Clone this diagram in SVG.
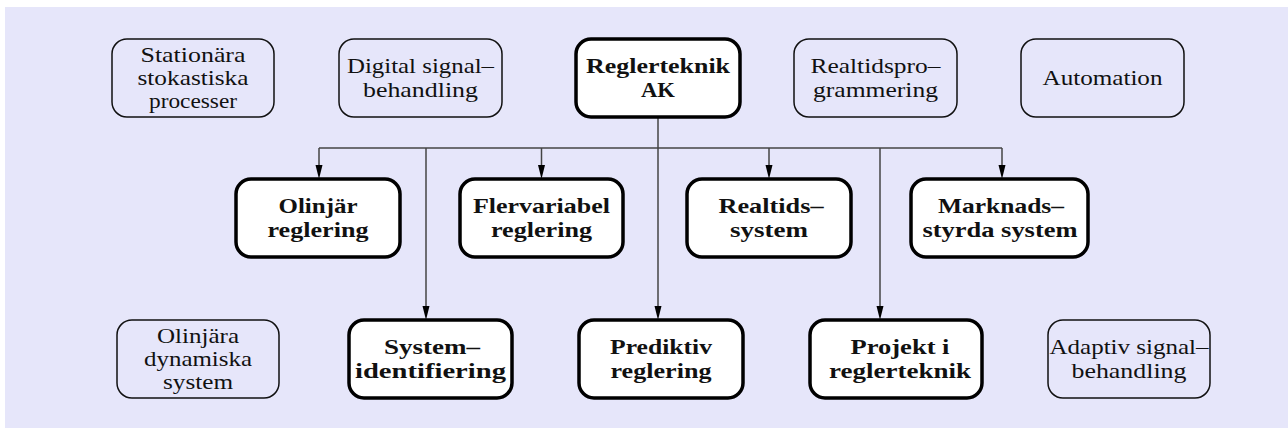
<svg xmlns="http://www.w3.org/2000/svg" width="1288" height="435" viewBox="0 0 1288 435">
<style>
.bg{fill:#e6e6fa}
.thin{fill:none;stroke:#111;stroke-width:1.5}
.thick{fill:#fff;stroke:#000;stroke-width:3.5}
.r{font-family:"Liberation Serif",serif;font-size:22px;fill:#111;text-anchor:middle}
.b{font-family:"Liberation Serif",serif;font-size:22px;font-weight:bold;fill:#111;text-anchor:middle}
.c{fill:none;stroke:#444;stroke-width:1.5}
</style>
<rect class="bg" x="5" y="7" width="1283" height="421"/>
<g id="connectors">
<path class="c" d="M319,148 H1002"/>
<path class="c" d="M658,117 V306"/>
<path class="c" d="M319,148 V165"/>
<path class="c" d="M541.5,148 V165"/>
<path class="c" d="M769,148 V165"/>
<path class="c" d="M1002,148 V165"/>
<path class="c" d="M426,148 V306"/>
<path class="c" d="M880,148 V306"/>
<path d="M315.5,165 L322.5,165 L319,179 Z"/>
<path d="M538,165 L545,165 L541.5,179 Z"/>
<path d="M765.5,165 L772.5,165 L769,179 Z"/>
<path d="M998.5,165 L1005.5,165 L1002,179 Z"/>
<path d="M422.5,306 L429.5,306 L426,320 Z"/>
<path d="M654.5,306 L661.5,306 L658,320 Z"/>
<path d="M876.5,306 L883.5,306 L880,320 Z"/>
</g>
<g id="n-stationara"><rect class="thin" x="112" y="39" width="162" height="78" rx="15"/>
<text class="r" x="193" y="62" textLength="105" lengthAdjust="spacingAndGlyphs">Stationära</text><text class="r" x="193" y="85" textLength="111" lengthAdjust="spacingAndGlyphs">stokastiska</text><text class="r" x="193" y="108" textLength="88" lengthAdjust="spacingAndGlyphs">processer</text></g>
<g id="n-digital"><rect class="thin" x="339" y="39" width="163" height="78" rx="15"/>
<text class="r" x="420.5" y="73" textLength="147" lengthAdjust="spacingAndGlyphs">Digital signal–</text><text class="r" x="420.5" y="97" textLength="115" lengthAdjust="spacingAndGlyphs">behandling</text></g>
<g id="n-reglerteknik"><rect class="thick" x="576" y="39" width="164" height="78" rx="15"/>
<text class="b" x="658" y="73" textLength="144" lengthAdjust="spacingAndGlyphs">Reglerteknik</text><text class="b" x="658" y="97" textLength="34" lengthAdjust="spacingAndGlyphs">AK</text></g>
<g id="n-realtidsprog"><rect class="thin" x="794" y="39" width="163" height="78" rx="15"/>
<text class="r" x="875.5" y="73" textLength="130" lengthAdjust="spacingAndGlyphs">Realtidspro–</text><text class="r" x="875.5" y="97" textLength="125" lengthAdjust="spacingAndGlyphs">grammering</text></g>
<g id="n-automation"><rect class="thin" x="1021" y="39" width="163" height="78" rx="15"/>
<text class="r" x="1102.5" y="85" textLength="120" lengthAdjust="spacingAndGlyphs">Automation</text></g>
<g id="n-olinjar"><rect class="thick" x="236" y="179" width="164" height="78" rx="15"/>
<text class="b" x="318" y="213" textLength="79" lengthAdjust="spacingAndGlyphs">Olinjär</text><text class="b" x="318" y="237" textLength="101" lengthAdjust="spacingAndGlyphs">reglering</text></g>
<g id="n-flervariabel"><rect class="thick" x="460" y="179" width="163" height="78" rx="15"/>
<text class="b" x="541.5" y="213" textLength="137" lengthAdjust="spacingAndGlyphs">Flervariabel</text><text class="b" x="541.5" y="237" textLength="101" lengthAdjust="spacingAndGlyphs">reglering</text></g>
<g id="n-realtidssystem"><rect class="thick" x="687" y="179" width="164" height="78" rx="15"/>
<text class="b" x="771" y="213" textLength="105" lengthAdjust="spacingAndGlyphs">Realtids–</text><text class="b" x="769" y="237" textLength="78" lengthAdjust="spacingAndGlyphs">system</text></g>
<g id="n-marknad"><rect class="thick" x="911" y="179" width="177" height="78" rx="15"/>
<text class="b" x="1001" y="213" textLength="126" lengthAdjust="spacingAndGlyphs">Marknads–</text><text class="b" x="1000" y="237" textLength="155" lengthAdjust="spacingAndGlyphs">styrda system</text></g>
<g id="n-olinjara"><rect class="thin" x="117" y="320" width="162" height="78" rx="15"/>
<text class="r" x="198" y="343" textLength="82" lengthAdjust="spacingAndGlyphs">Olinjära</text><text class="r" x="198" y="366" textLength="108" lengthAdjust="spacingAndGlyphs">dynamiska</text><text class="r" x="198" y="389" textLength="70" lengthAdjust="spacingAndGlyphs">system</text></g>
<g id="n-sysid"><rect class="thick" x="349" y="320" width="163" height="78" rx="15"/>
<text class="b" x="432" y="354" textLength="96" lengthAdjust="spacingAndGlyphs">System–</text><text class="b" x="430.5" y="378" textLength="151" lengthAdjust="spacingAndGlyphs">identifiering</text></g>
<g id="n-prediktiv"><rect class="thick" x="579" y="320" width="164" height="78" rx="15"/>
<text class="b" x="661" y="354" textLength="102" lengthAdjust="spacingAndGlyphs">Prediktiv</text><text class="b" x="661" y="378" textLength="101" lengthAdjust="spacingAndGlyphs">reglering</text></g>
<g id="n-projekt"><rect class="thick" x="810" y="320" width="172" height="78" rx="15"/>
<text class="b" x="900" y="354" textLength="99" lengthAdjust="spacingAndGlyphs">Projekt i</text><text class="b" x="900" y="378" textLength="142" lengthAdjust="spacingAndGlyphs">reglerteknik</text></g>
<g id="n-adaptiv"><rect class="thin" x="1048" y="320" width="162" height="78" rx="15"/>
<text class="r" x="1129" y="354" textLength="159" lengthAdjust="spacingAndGlyphs">Adaptiv signal–</text><text class="r" x="1129" y="378" textLength="115" lengthAdjust="spacingAndGlyphs">behandling</text></g>
</svg>
